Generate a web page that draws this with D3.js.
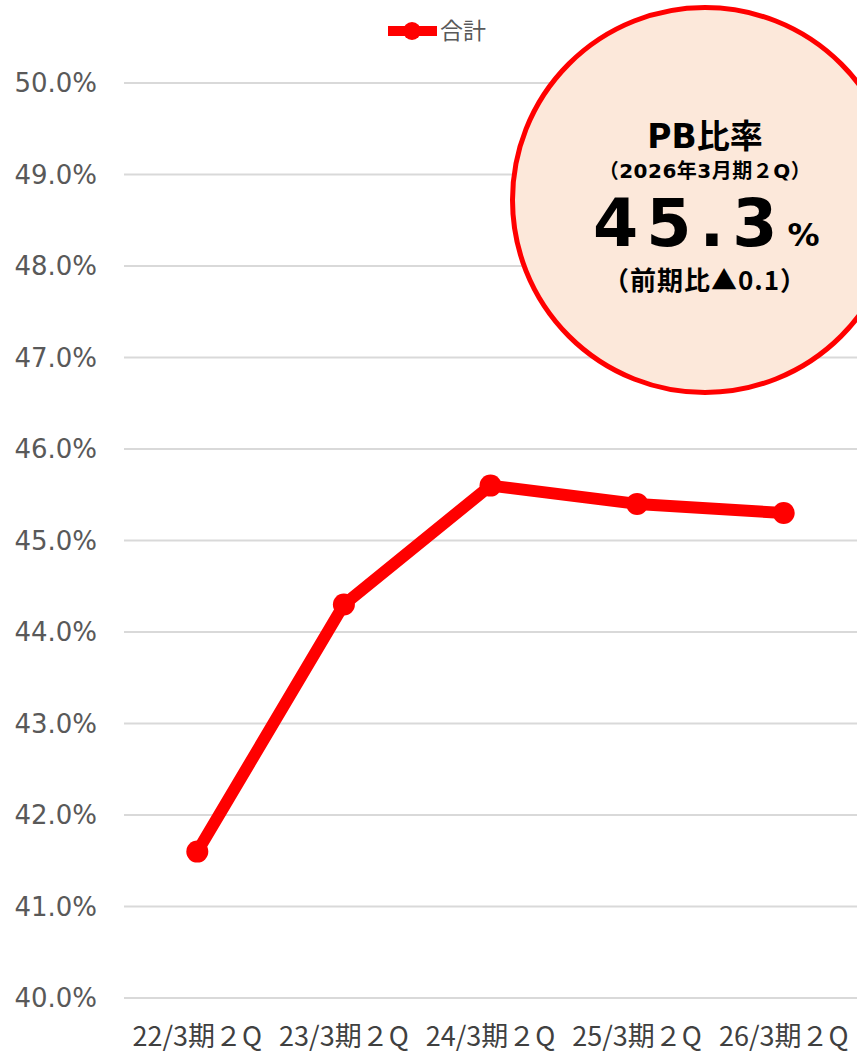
<!DOCTYPE html>
<html><head><meta charset="utf-8">
<script src="https://cdn.jsdelivr.net/npm/d3@7"></script>
<style>html,body{margin:0;padding:0;background:#fff;}svg{display:block;}</style>
</head><body>
<script>
const categories = ["22/3期２Q","23/3期２Q","24/3期２Q","25/3期２Q","26/3期２Q"];
const values = [41.6, 44.3, 45.6, 45.4, 45.3];
const yTicks = [40,41,42,43,44,45,46,47,48,49,50];
const seriesName = "合計";
const calloutTitle = "PB比率";
const calloutSub = "（2026年3月期２Q）";
const calloutValue = "45.3";
const calloutUnit = "%";
const calloutDelta = "（前期比▲0.1）";

const W = 857, H = 1055;
const svg = d3.select("body").append("svg").attr("width", W).attr("height", H);

const x = d3.scalePoint().domain(categories).range([124, 857]).padding(0.5);
const y = d3.scaleLinear().domain([40, 50]).range([998, 83]);

// gridlines
svg.append("g").selectAll("line").data(yTicks).join("line")
  .attr("x1", 124).attr("x2", 857)
  .attr("y1", d => y(d)).attr("y2", d => y(d))
  .attr("stroke", "#d9d9d9").attr("stroke-width", 2);

// y labels
svg.append("g").selectAll("text").data(yTicks).join("text")
  .attr("x", 97).attr("y", d => y(d)).attr("dy", "0.36em")
  .attr("text-anchor", "end")
  .attr("font-family", "DejaVu Sans, sans-serif").attr("font-size", 26)
  .attr("fill", "#595959")
  .text(d => d.toFixed(1) + "%");

// x labels
svg.append("g").selectAll("text").data(categories).join("text")
  .attr("x", d => x(d)).attr("y", 1046)
  .attr("text-anchor", "middle")
  .attr("font-family", "Noto Sans CJK JP, sans-serif").attr("font-size", 27)
  .attr("fill", "#404040")
  .text(d => d);

// line
const data = categories.map((c, i) => ({c, v: values[i]}));
svg.append("path").datum(data)
  .attr("d", d3.line().x(d => x(d.c)).y(d => y(d.v)))
  .attr("fill", "none").attr("stroke", "#ff0000").attr("stroke-width", 12)
  .attr("stroke-linejoin", "round");
svg.append("g").selectAll("circle").data(data).join("circle")
  .attr("cx", d => x(d.c)).attr("cy", d => y(d.v)).attr("r", 11)
  .attr("fill", "#ff0000");

// legend
const lg = svg.append("g");
lg.append("line").attr("x1", 388).attr("x2", 437).attr("y1", 31).attr("y2", 31)
  .attr("stroke", "#ff0000").attr("stroke-width", 10);
lg.append("circle").attr("cx", 412).attr("cy", 31).attr("r", 9).attr("fill", "#ff0000");
lg.append("text").attr("x", 440).attr("y", 31).attr("dy", "0.35em")
  .attr("font-family", "Noto Sans CJK JP, sans-serif").attr("font-size", 23)
  .attr("fill", "#595959").text(seriesName);

// callout circle
const cx = 705, cy = 200;
svg.append("circle").attr("cx", cx).attr("cy", cy).attr("r", 192.5)
  .attr("fill", "#fce8da").attr("stroke", "#ff0000").attr("stroke-width", 5);

const bold = "DejaVu Sans, Noto Sans CJK JP, sans-serif";
svg.append("text").attr("x", cx).attr("y", 148).attr("text-anchor", "middle")
  .attr("font-family", bold).attr("font-weight", "bold").attr("font-size", 33)
  .attr("fill", "#000").text(calloutTitle);
svg.append("text").attr("x", cx).attr("y", 178).attr("text-anchor", "middle")
  .attr("font-family", bold).attr("font-weight", "bold").attr("font-size", 20)
  .attr("letter-spacing", 0.5)
  .attr("fill", "#000").text(calloutSub);
const vt = svg.append("text").attr("x", 593).attr("y", 246)
  .attr("font-family", bold).attr("font-weight", "bold").attr("fill", "#000");
vt.append("tspan").attr("font-size", 65).attr("letter-spacing", 8).text(calloutValue);
vt.append("tspan").attr("font-size", 32).attr("dx", 2).text(calloutUnit);
svg.append("text").attr("x", cx).attr("y", 290).attr("text-anchor", "middle")
  .attr("font-family", "Noto Sans CJK JP, sans-serif").attr("font-weight", "bold").attr("font-size", 26)
  .attr("letter-spacing", 1)
  .attr("fill", "#000").text(calloutDelta);
</script>
</body></html>
